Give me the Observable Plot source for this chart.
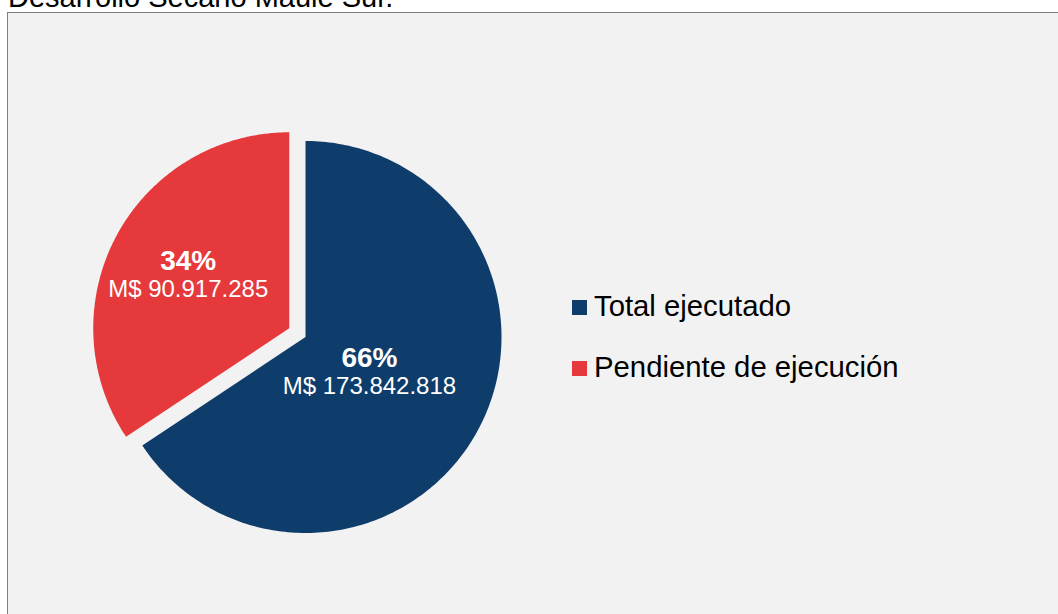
<!DOCTYPE html>
<html>
<head>
<meta charset="utf-8">
<script src="https://cdn.jsdelivr.net/npm/d3@7"></script>
<script src="https://cdn.jsdelivr.net/npm/@observablehq/plot@0.6"></script>
<style>
  html, body { margin: 0; padding: 0; background: #ffffff; overflow: hidden; }
  body { width: 1058px; height: 614px; position: relative; font-family: "Liberation Sans", Arial, sans-serif; }
  #title { position: absolute; left: 8px; top: -17.2px; font-size: 29px; line-height: 28px; color: #000; white-space: nowrap; }
  #box { position: absolute; left: 7px; top: 12px; width: 1070px; height: 620px; background: #f2f2f2; border: 1.5px solid #7f7f7f; box-sizing: border-box; }
  #chart { position: absolute; left: 0; top: 0; }
  #chart svg { background: transparent; }
  .leg { position: absolute; left: 572px; font-size: 29.3px; line-height: 28px; color: #000; white-space: nowrap; }
  .leg .sw { position: absolute; left: 0; width: 15px; height: 15px; }
  .leg .lab { position: absolute; left: 22px; top: 0; }
</style>
</head>
<body>
<div id="title">Desarrollo Secano Maule Sur.</div>
<div id="box"></div>
<div id="chart"></div>
<div id="legend"></div>
<script>
// ---- data ----
const categories = ["Total ejecutado", "Pendiente de ejecución"];
const values = [173842818, 90917285];
const percentLabels = ["66%", "34%"];
const valueLabels = ["M$ 173.842.818", "M$ 90.917.285"];
const colors = ["#0e3d6b", "#e5393b"];

// ---- layout constants (styling, not data) ----
const W = 1058, H = 614;
const cx = 305, cy = 336.5, R = 196;
const explode = {"Pendiente de ejecución": 0.094};
const labelRadius = {"Total ejecutado": 0.37, "Pendiente de ejecución": 0.585};

const arcs = d3.pie().sort(null).value(d => d.value)(
  categories.map((name, i) => ({name, value: values[i], pct: percentLabels[i], val: valueLabels[i]}))
);

const polys = [];
const labels = [];
for (const a of arcs) {
  const name = a.data.name;
  const mid = (a.startAngle + a.endAngle) / 2;
  const off = explode[name] || 0;
  const ox = off * Math.sin(mid), oy = off * Math.cos(mid);
  polys.push({name, x: ox, y: oy});
  const n = 240;
  for (let k = 0; k <= n; k++) {
    const t = a.startAngle + (a.endAngle - a.startAngle) * k / n;
    polys.push({name, x: ox + Math.sin(t), y: oy + Math.cos(t)});
  }
  polys.push({name, x: ox, y: oy});
  const lr = labelRadius[name];
  labels.push({name, x: ox + lr * Math.sin(mid), y: oy + lr * Math.cos(mid), pct: a.data.pct, val: a.data.val});
}

const plot = Plot.plot({
  width: W,
  height: H,
  margin: 0,
  style: {background: "transparent", fontFamily: "'Liberation Sans', Arial, sans-serif"},
  x: {type: "linear", domain: [-1, 1], range: [cx - R, cx + R], axis: null},
  y: {type: "linear", domain: [-1, 1], range: [cy + R, cy - R], axis: null},
  color: {domain: categories, range: colors},
  marks: [
    Plot.line(polys, {x: "x", y: "y", z: "name", fill: "name", stroke: null, curve: "linear"}),
    Plot.text(labels, {x: "x", y: "y", text: "pct", fill: "white", fontSize: 28, fontWeight: "bold", dy: -13, textAnchor: "middle", lineAnchor: "middle"}),
    Plot.text(labels, {x: "x", y: "y", text: "val", fill: "white", fontSize: 24, dy: 15, textAnchor: "middle", lineAnchor: "middle"})
  ]
});
document.getElementById("chart").appendChild(plot);

// ---- legend ----
const legend = document.getElementById("legend");
const legTops = [291.5, 352.5];
categories.forEach((name, i) => {
  const row = document.createElement("div");
  row.className = "leg";
  row.style.top = legTops[i] + "px";
  const sw = document.createElement("div");
  sw.className = "sw";
  sw.style.background = colors[i];
  sw.style.top = "8.5px";
  const lab = document.createElement("div");
  lab.className = "lab";
  lab.textContent = name;
  row.appendChild(sw);
  row.appendChild(lab);
  legend.appendChild(row);
});
</script>
</body>
</html>
